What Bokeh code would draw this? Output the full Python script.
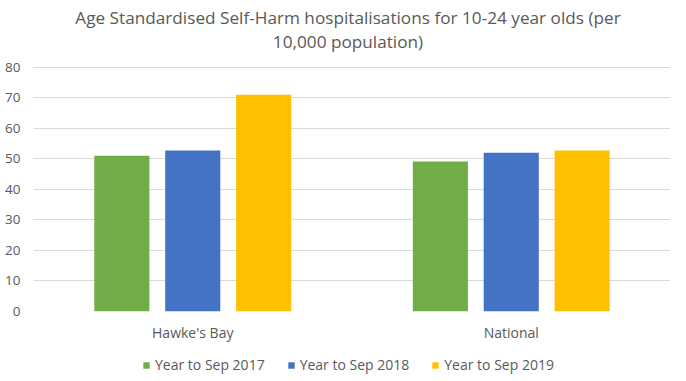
from bokeh.plotting import figure
from bokeh.models import ColumnDataSource, Legend, LegendItem, FixedTicker, Range1d, Label
from bokeh.layouts import column
from bokeh.transform import dodge
from bokeh.embed import file_html
from bokeh.resources import INLINE

categories = ["Hawke's Bay", "National"]
series = ["Year to Sep 2017", "Year to Sep 2018", "Year to Sep 2019"]
v2017 = [51.0, 49.1]
v2018 = [52.7, 52.0]
v2019 = [71.0, 52.7]
colors = ["#70AD47", "#4472C4", "#FFC000"]
y_ticks = [0, 10, 20, 30, 40, 50, 60, 70, 80]
title_lines = ["Age Standardised Self-Harm hospitalisations for 10-24 year olds (per",
               "10,000 population)"]

src = ColumnDataSource(dict(cat=categories, v2017=v2017, v2018=v2018, v2019=v2019))
fields = ["v2017", "v2018", "v2019"]
offsets = [-0.2226, 0.0, 0.2226]

# layout (pixels from top of the figure)
FRAME_BOTTOM = 311
GRID_TOP_PX = 66.7          # where the 80 gridline sits
TITLE_PX = [17, 41]         # title line centres
px_per_unit = (FRAME_BOTTOM - GRID_TOP_PX) / 80
y_end = FRAME_BOTTOM / px_per_unit

p = figure(x_range=categories, y_range=Range1d(0, y_end), width=670, height=344,
           output_backend="svg", toolbar_location=None,
           min_border_left=33, min_border_right=0, min_border_top=0, min_border_bottom=33)
p.x_range.range_padding = 0

for line, ypx in zip(title_lines, TITLE_PX):
    p.add_layout(Label(x=1.0, y=(FRAME_BOTTOM - ypx) / px_per_unit, text=line,
                       x_offset=-4, text_align="center", text_baseline="middle",
                       text_font="Open Sans", text_font_size="17.2px",
                       text_color="#595959"))

for f, off, c in zip(fields, offsets, colors):
    p.vbar(x=dodge("cat", off, range=p.x_range), top=f, width=0.173, source=src,
           fill_color=c, line_color=None)

p.outline_line_color = None
p.xgrid.grid_line_color = None
p.ygrid.grid_line_color = "#D9D9D9"
p.yaxis.ticker = FixedTicker(ticks=y_ticks)
for ax in (p.xaxis[0], p.yaxis[0]):
    ax.axis_line_color = None
    ax.major_tick_line_color = None
    ax.minor_tick_line_color = None
    ax.major_tick_out = 0
    ax.major_tick_in = 0
    ax.major_label_text_color = "#595959"
    ax.major_label_text_font = "Open Sans"
p.yaxis[0].major_label_text_font_size = "13.5px"
p.yaxis[0].major_label_standoff = 13
p.xaxis[0].major_label_text_font_size = "14px"
p.xaxis[0].major_label_standoff = 11

# legend strip below the chart (hidden bars; only their legend glyphs show)
lg = figure(width=670, height=30, output_backend="svg", toolbar_location=None,
            x_range=categories, y_range=Range1d(1000, 1001),
            x_axis_location=None, y_axis_location=None,
            min_border=0, outline_line_color=None)
lg.grid.visible = False
items = []
for f, name, c in zip(fields, series, colors):
    r = lg.vbar(x="cat", top=f, width=0.1, source=src, fill_color=c, line_color=None,
                visible=False)
    items.append(LegendItem(label=name, renderers=[r]))
legend = Legend(items=items, orientation="horizontal", location=(109, 0),
                glyph_width=8, glyph_height=8, label_standoff=5, spacing=22,
                label_text_font="Open Sans", label_text_font_size="14px",
                label_text_color="#595959", border_line_color=None,
                inactive_fill_alpha=0,
                background_fill_alpha=0, padding=0, margin=0)
lg.add_layout(legend)

open("out.html", "w").write(file_html(column(p, lg, spacing=0), INLINE))
